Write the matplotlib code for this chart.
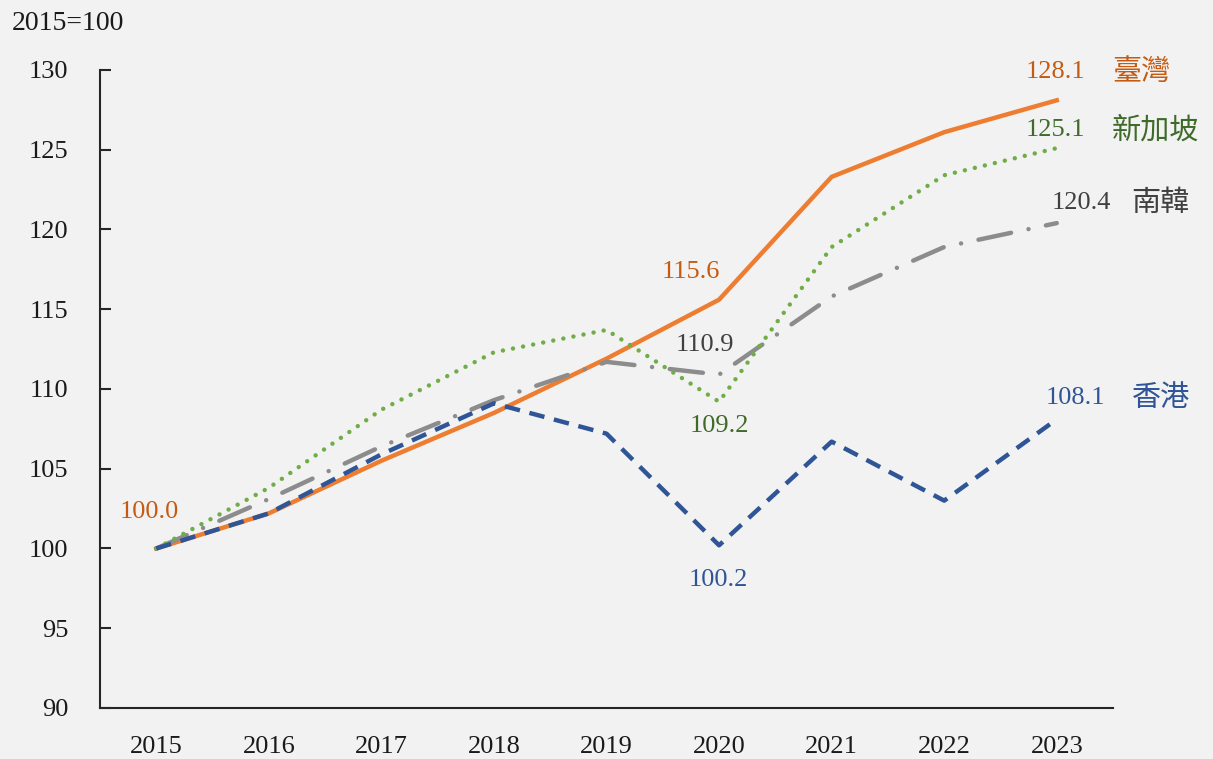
import matplotlib
matplotlib.use("Agg")
import matplotlib.pyplot as plt

# data (index, 2015=100)
years = ["2015", "2016", "2017", "2018", "2019", "2020", "2021", "2022", "2023"]
taiwan = [100.0, 102.2, 105.5, 108.5, 111.9, 115.6, 123.3, 126.1, 128.1]
singapore = [100.0, 103.8, 108.7, 112.3, 113.7, 109.2, 118.9, 123.4, 125.1]
korea = [100.0, 103.1, 106.4, 109.3, 111.7, 110.9, 115.8, 118.9, 120.4]
hongkong = [100.0, 102.2, 105.9, 109.1, 107.2, 100.2, 106.7, 103.0, 108.1]
y_ticks = [90, 95, 100, 105, 110, 115, 120, 125, 130]

serif = ["Liberation Serif", "DejaVu Serif"]
cjk = ["Noto Sans CJK TC", "DejaVu Sans"]
bg = "#f2f2f2"

fig = plt.figure(figsize=(12.13, 7.59), dpi=100, facecolor=bg)
ax = fig.add_axes([0.0824, 0.0672, 0.8352, 0.8406], facecolor=bg)
x = list(range(len(years)))

ax.plot(x, hongkong, color="#2f5597", lw=3.2, dashes=(3.5, 2.2), zorder=5)
ax.plot(x, korea, color="#8c8c8c", lw=3.2, dashes=(7.5, 4, 0.01, 4),
        dash_capstyle="round", zorder=3)
ax.plot(x, singapore, color="#70ad47", lw=3.2, dashes=(0.01, 2.3),
        dash_capstyle="round", zorder=4)
ax.plot(x, taiwan, color="#ed7d31", lw=3.2, zorder=2)

ax.set_xlim(-0.5, len(years) - 0.5)
ax.set_ylim(90, 130)
ax.set_yticks(y_ticks)
ax.set_xticks(x)
ax.set_xticklabels(years)
for s in ["top", "right"]:
    ax.spines[s].set_visible(False)
for s in ["left", "bottom"]:
    ax.spines[s].set_linewidth(1.5)
    ax.spines[s].set_color("#262626")
ax.tick_params(axis="y", direction="in", length=8, width=1.5, pad=23,
               labelsize=19, colors="#262626")
ax.tick_params(axis="x", length=0, pad=20, labelsize=19, colors="#262626")
for lab in ax.get_xticklabels() + ax.get_yticklabels():
    lab.set_family(serif)
    lab.set_color("#1a1a1a")

fig.text(12 / 1213, 1 - 24 / 759, "2015=100", family=serif, fontsize=20,
         ha="left", va="center", color="#1a1a1a")

# value labels
c_tw, c_sg, c_kr, c_hk = "#c55a11", "#3f6b2a", "#404040", "#2f5597"
ax.annotate("100.0", (0, taiwan[0]), xytext=(-7, 36), textcoords="offset pixels",
            ha="center", va="center", family=serif, fontsize=19, color=c_tw)
ax.annotate("115.6", (5, taiwan[5]), xytext=(-28, 28), textcoords="offset pixels",
            ha="center", va="center", family=serif, fontsize=19, color=c_tw)
ax.annotate("110.9", (5, korea[5]), xytext=(-14, 30), textcoords="offset pixels",
            ha="center", va="center", family=serif, fontsize=19, color=c_kr)
ax.annotate("109.2", (5, singapore[5]), xytext=(0, -24), textcoords="offset pixels",
            ha="center", va="center", family=serif, fontsize=19, color=c_sg)
ax.annotate("100.2", (5, hongkong[5]), xytext=(-1, -35), textcoords="offset pixels",
            ha="center", va="center", family=serif, fontsize=19, color=c_hk)

# end labels: value, name, value dx, name dx, dy
last = len(years) - 1
ends = [(taiwan, "128.1", "臺灣", c_tw, -1, 55, 28),
        (singapore, "125.1", "新加坡", c_sg, -1, 55, 18),
        (korea, "120.4", "南韓", c_kr, 25, 74, 20),
        (hongkong, "108.1", "香港", c_hk, 19, 75, 21)]
for series, val, name, col, dx, ndx, dy in ends:
    ax.annotate(val, (last, series[-1]), xytext=(dx, dy), textcoords="offset pixels",
                ha="center", va="center", family=serif, fontsize=19, color=col,
                annotation_clip=False)
    ax.annotate(name, (last, series[-1]), xytext=(ndx, dy), textcoords="offset pixels",
                ha="left", va="center", family=cjk, fontsize=21, color=col,
                annotation_clip=False)

fig.savefig("out.png", dpi=100, facecolor=bg)
